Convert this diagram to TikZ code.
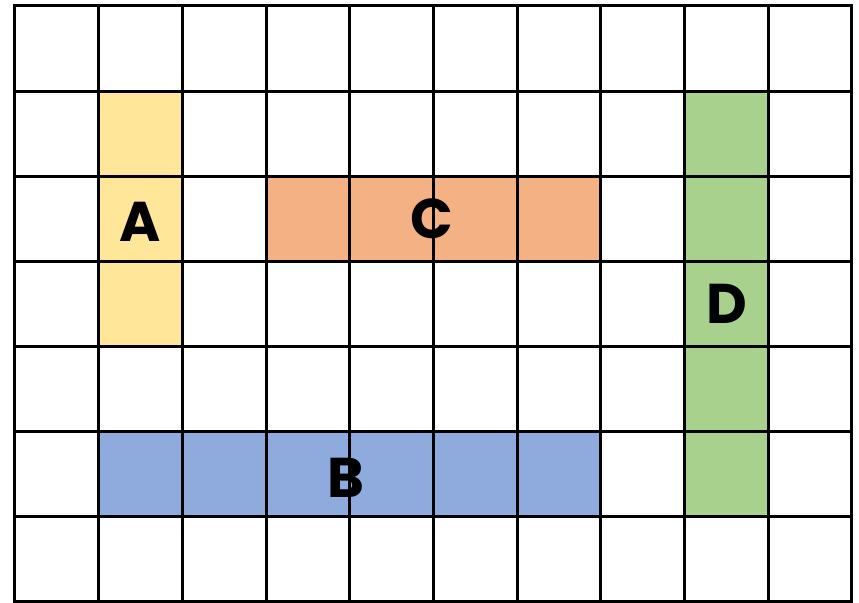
\documentclass[tikz,border=0pt]{standalone}
\usepackage{fontspec}
\setmainfont{Poppins}
\definecolor{blockyellow}{HTML}{FFE699}
\definecolor{blockorange}{HTML}{F4B183}
\definecolor{blockblue}{HTML}{8FAADC}
\definecolor{blockgreen}{HTML}{A9D18E}

\begin{document}
\begin{tikzpicture}[x=41.85pt,y=-42.55pt,
    gridline/.style={line width=1.5pt,line cap=rect},
    blocklabel/.style={font=\fontsize{28}{28}\selectfont\bfseries,inner sep=0pt}]
  \useasboundingbox (-0.179,-0.07) rectangle (10.084,7.015);
  % coloured blocks
  \fill[blockyellow] (1,1) rectangle (2,4);
  \fill[blockorange] (3,2) rectangle (7,3);
  \fill[blockblue] (1,5) rectangle (7,6);
  \fill[blockgreen] (8,1) rectangle (9,6);
  % grid, 10 by 7
  \foreach \xx in {0,...,10}{
    \draw[gridline] (\xx,0) -- (\xx,7);
  }
  \foreach \yy in {0,...,7}{
    \draw[gridline] (0,\yy) -- (10,\yy);
  }
  % labels
  \node[blocklabel] (A) at (1.5,2.54) {A};
  \node[blocklabel] (C) at (4.98,2.5) {C};
  \node[blocklabel] (B) at (3.95,5.54) {B};
  \node[blocklabel] (D) at (8.5,3.5) {D};
\end{tikzpicture}
\end{document}
